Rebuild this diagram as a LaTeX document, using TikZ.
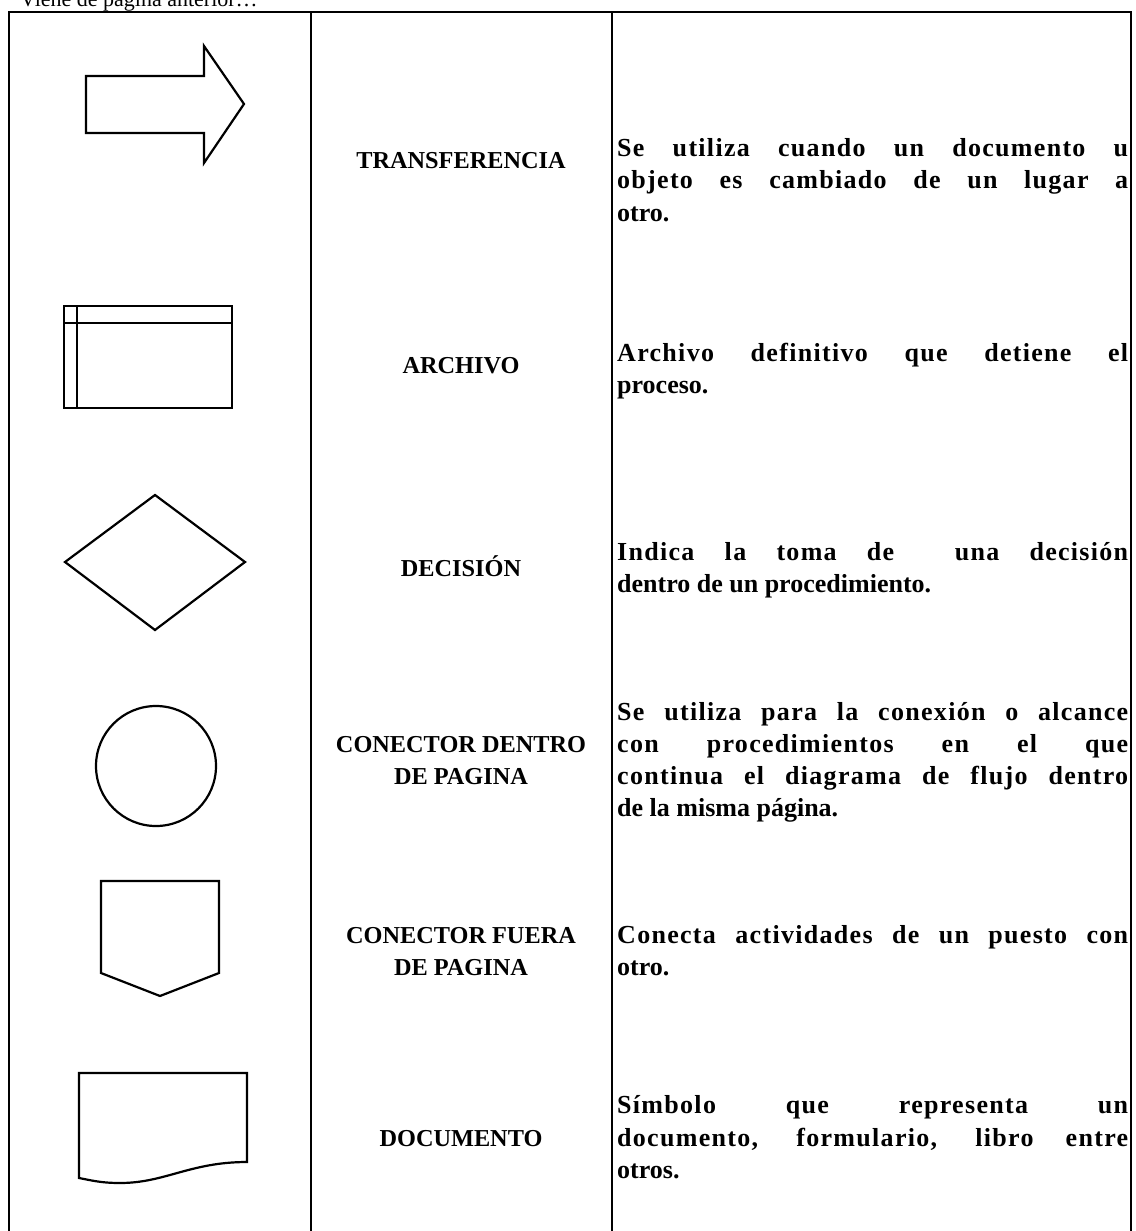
\documentclass[tikz,border=0pt]{standalone}
\usepackage{fontspec}
\setmainfont{Liberation Serif}
\newcommand{\jline}[1]{{\addfontfeatures{LetterSpace=5}\makebox[511pt][s]{#1}}}
\begin{document}
\begin{tikzpicture}[x=1pt,y=-1pt,
  tbl/.style={line width=1.3pt,black},
  sym/.style={line width=2.2pt,black,line join=miter},
  midtxt/.style={font=\fontsize{24.3}{32.5}\selectfont\bfseries,align=center,inner sep=0pt,anchor=base},
  desc/.style={font=\fontsize{26}{32.5}\selectfont\bfseries,inner sep=0pt,anchor=base west},
  head/.style={font=\fontsize{22}{26}\selectfont,inner sep=0pt,anchor=base west}]
\useasboundingbox (0,0) rectangle (1135,1231);
\fill[white] (0,0) rectangle (1135,1231);
% heading
\node[head] (hd) at (20,7) {Viene de página anterior…};
% table lines
\draw[tbl] (9,1231) -- (9,12) -- (1131,12) -- (1131,1231);
\draw[tbl] (311,12) -- (311,1231);
\draw[tbl] (612,12) -- (612,1231);
% symbols
\draw[sym] (86,76) -- (204,76) -- (204,46) -- (244,104) -- (204,163) -- (204,133) -- (86,133) -- cycle;
\draw[sym] (64,306) rectangle (232,408);
\draw[sym] (64,323) -- (232,323);
\draw[sym] (77,306) -- (77,408);
\draw[sym] (65,562) -- (155,495) -- (245,562) -- (155,630) -- cycle;
\draw[sym] (156,766) circle (60);
\draw[sym] (101,881) -- (219,881) -- (219,973) -- (160,996) -- (101,973) -- cycle;
\draw[sym] (79,1073) -- (247,1073) -- (247,1162) .. controls (190,1162) and (165,1183) .. (120,1183) .. controls (100,1183) and (90,1180) .. (79,1178) -- cycle;
% middle column
\node[midtxt] (t1) at (461,168) {TRANSFERENCIA};
\node[midtxt] (t2) at (461,373) {ARCHIVO};
\node[midtxt] (t3) at (461,576) {DECISIÓN};
\node[midtxt] (t4a) at (461,752) {CONECTOR DENTRO};
\node[midtxt] (t4b) at (461,784) {DE PAGINA};
\node[midtxt] (t5a) at (461,943) {CONECTOR FUERA};
\node[midtxt] (t5b) at (461,975) {DE PAGINA};
\node[midtxt] (t6) at (461,1146) {DOCUMENTO};
% descriptions
\node[desc] (d1a) at (617,156) {\jline{Se utiliza cuando un documento u}};
\node[desc] (d1b) at (617,188) {\jline{objeto es cambiado de un lugar a}};
\node[desc] (d1c) at (617,221) {otro.};
\node[desc] (d2a) at (617,361) {\jline{Archivo definitivo que detiene el}};
\node[desc] (d2b) at (617,393) {proceso.};
\node[desc] (d3a) at (617,560) {\jline{Indica la toma de \ una decisión}};
\node[desc] (d3b) at (617,592) {dentro de un procedimiento.};
\node[desc] (d4a) at (617,720) {\jline{Se utiliza para la conexión o alcance}};
\node[desc] (d4b) at (617,752) {\jline{con procedimientos en el que}};
\node[desc] (d4c) at (617,784) {\jline{continua el diagrama de flujo dentro}};
\node[desc] (d4d) at (617,816) {de la misma página.};
\node[desc] (d5a) at (617,943) {\jline{Conecta actividades de un puesto con}};
\node[desc] (d5b) at (617,975) {otro.};
\node[desc] (d6a) at (617,1113) {\jline{Símbolo que representa un}};
\node[desc] (d6b) at (617,1146) {\jline{documento, formulario, libro entre}};
\node[desc] (d6c) at (617,1178) {otros.};
\end{tikzpicture}
\end{document}
